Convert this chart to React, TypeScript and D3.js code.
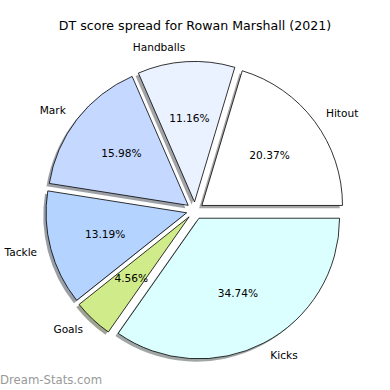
import React from 'react';
import * as d3 from 'd3';

const labels = ['Hitout', 'Handballs', 'Mark', 'Tackle', 'Goals', 'Kicks'];
const shares = [20.37, 11.16, 15.98, 13.19, 4.56, 34.74];
const colors = ['#ffffff', '#eaf1ff', '#c5d8ff', '#b4d4ff', '#d0eb8a', '#dbffff'];

const width = 390;
const height = 390;
const cx = 195;
const cy = 210.6;
const radius = 140.6;
const explode = 8.6;
const shadowOff = 2.8;

const shadowColor = (c: string) => {
  const rgb = d3.rgb(c);
  return `rgb(${rgb.r * 0.3},${rgb.g * 0.3},${rgb.b * 0.3})`;
};

const App: React.FC = () => {
  // start at 3 o'clock, go counterclockwise
  const pie = d3.pie<number>()
    .sort(null)
    .startAngle(Math.PI / 2)
    .endAngle(Math.PI / 2 - 2 * Math.PI);
  const arcs = pie(shares);
  const arc = d3.arc<d3.PieArcDatum<number>>().innerRadius(0).outerRadius(radius);

  const slices = arcs.map((a, i) => {
    const mid = (a.startAngle + a.endAngle) / 2;
    const ux = Math.sin(mid);
    const uy = -Math.cos(mid);
    return { a, i, ux, uy, dx: ux * explode, dy: uy * explode };
  });

  return (
    <svg width={width} height={height} style={{ position: 'absolute', left: 0, top: 0 }}
      fontFamily="DejaVu Sans, sans-serif">
      <rect width={width} height={height} fill="#fff" />
      <text x={195} y={29.5} textAnchor="middle" fontSize={12.6} fill="#000">
        DT score spread for Rowan Marshall (2021)
      </text>
      {/* shadows below every wedge */}
      {slices.map(s => (
        <path key={'sh' + s.i}
          d={arc(s.a) || ''}
          transform={`translate(${cx + s.dx - shadowOff},${cy + s.dy + shadowOff})`}
          fill={shadowColor(colors[s.i])}
          fillOpacity={0.5}
        />
      ))}
      {slices.map(s => (
        <path key={'w' + s.i}
          d={arc(s.a) || ''}
          transform={`translate(${cx + s.dx},${cy + s.dy})`}
          fill={colors[s.i]}
          stroke="#000"
          strokeWidth={0.8}
          strokeLinejoin="round"
        />
      ))}
      {slices.map(s => {
        const lr = explode + radius * 1.1;
        const pr = explode + radius * 0.6;
        return (
          <g key={'t' + s.i} fontSize={10.6} fill="#000">
            <text x={cx + s.ux * lr} y={cy + s.uy * lr} dy="0.35em"
              textAnchor={s.ux > 0 ? 'start' : 'end'}>
              {labels[s.i]}
            </text>
            <text x={cx + s.ux * pr} y={cy + s.uy * pr} dy="0.35em" textAnchor="middle">
              {shares[s.i].toFixed(2)}%
            </text>
          </g>
        );
      })}
      <text x={0} y={384} fontSize={11.7} fill="#999">Dream-Stats.com</text>
    </svg>
  );
};

export default App;
